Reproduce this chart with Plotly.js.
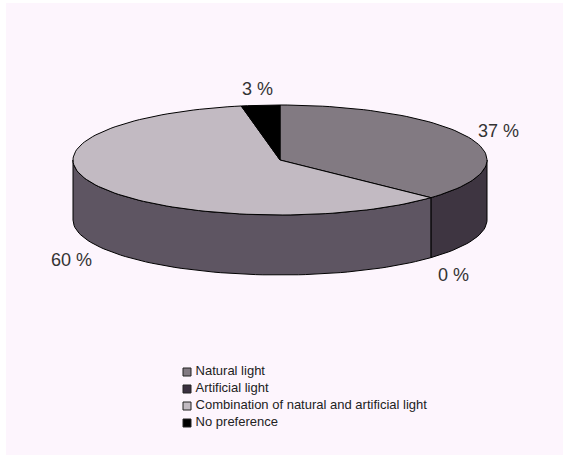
<!DOCTYPE html>
<html><head><meta charset="utf-8">
<script src="https://cdn.plot.ly/plotly-3.0.1.min.js"></script>
<style>html,body{margin:0;padding:0;background:#fff}</style>
</head><body>
<div id="chart" style="width:563px;height:455px"></div>
<script>
// ---- data ----
var categories = ["Natural light", "Artificial light", "Combination of natural and artificial light", "No preference"];
var values = [37, 0, 60, 3];
var labels = ["37 %", "0 %", "60 %", "3 %"];
var topColors = ["#827a82", "#3a3040", "#c2bac2", "#000000"];
var sideColors = ["#3e3541", "#2e2632", "#5e5562", "#000000"];

// ---- geometry (layout) ----
var cx = 280, cy = 160, rx = 207, ry = 55, depth = 60;
function pt(deg, dy) {
  var r = deg * Math.PI / 180;
  return [cx + rx * Math.sin(r), cy - ry * Math.cos(r) + (dy || 0)];
}
function arc(a0, a1, dy) {
  var pts = [], n = Math.max(2, Math.ceil(Math.abs(a1 - a0) / 2));
  for (var i = 0; i <= n; i++) pts.push(pt(a0 + (a1 - a0) * i / n, dy));
  return pts;
}
var total = values.reduce(function(a, b) { return a + b; }, 0);
var starts = [], acc = 0;
values.forEach(function(v) { starts.push(acc / total * 360); acc += v; });

var traces = [];
// sides (front half only: 90..270 deg)
values.forEach(function(v, i) {
  if (v <= 0) return;
  var a0 = Math.max(starts[i], 90), a1 = Math.min(starts[i] + v / total * 360, 270);
  if (a1 <= a0) return;
  var top = arc(a0, a1, 0), bot = arc(a1, a0, depth);
  var all = top.concat(bot); all.push(top[0]);
  traces.push({type: "scatter", mode: "lines", fill: "toself", fillcolor: sideColors[i],
    x: all.map(function(p){return p[0];}), y: all.map(function(p){return p[1];}),
    line: {color: "#000", width: 1}, hoverinfo: "skip", showlegend: false});
});
// top faces
values.forEach(function(v, i) {
  if (v <= 0) return;
  var a0 = starts[i], a1 = starts[i] + v / total * 360;
  var pts = [[cx, cy]].concat(arc(a0, a1, 0)); pts.push([cx, cy]);
  traces.push({type: "scatter", mode: "lines", fill: "toself", fillcolor: topColors[i],
    x: pts.map(function(p){return p[0];}), y: pts.map(function(p){return p[1];}),
    line: {color: "#000", width: 1}, hoverinfo: "skip", showlegend: false});
});
// percentage labels
var lx = [], ly = [];
values.forEach(function(v, i) {
  var mid = starts[i] + v / total * 180;
  var r = mid * Math.PI / 180;
  var front = Math.cos(r) < 0;
  lx.push(cx + rx * 1.15 * Math.sin(r));
  ly.push(cy - ry * (front ? 1.35 : 1.27) * Math.cos(r) + (front ? depth + 6 : 0));
});
traces.push({type: "scatter", mode: "text", x: lx, y: ly, text: labels,
  textfont: {family: "Liberation Sans, Arial, sans-serif", size: 18, color: "#333"},
  hoverinfo: "skip", showlegend: false});
// legend
traces.push({type: "scatter", mode: "markers+text",
  x: categories.map(function(){return 187;}),
  y: categories.map(function(c, i){return 372 + i * 17;}),
  text: categories.map(function(c){return "\u2009" + c;}), textposition: "middle right",
  textfont: {family: "Liberation Sans, Arial, sans-serif", size: 13, color: "#222"},
  marker: {symbol: "square", size: 8, color: topColors, line: {color: "#222", width: 1}},
  hoverinfo: "skip", showlegend: false});

var layout = {
  width: 563, height: 455,
  margin: {l: 6, r: 0, t: 3, b: 0},
  paper_bgcolor: "#ffffff", plot_bgcolor: "#fdf5fd",
  showlegend: false,
  xaxis: {range: [6, 563], visible: false, fixedrange: true},
  yaxis: {range: [455, 3], visible: false, fixedrange: true}
};
Plotly.newPlot("chart", traces, layout, {staticPlot: true});
</script>
</body></html>
